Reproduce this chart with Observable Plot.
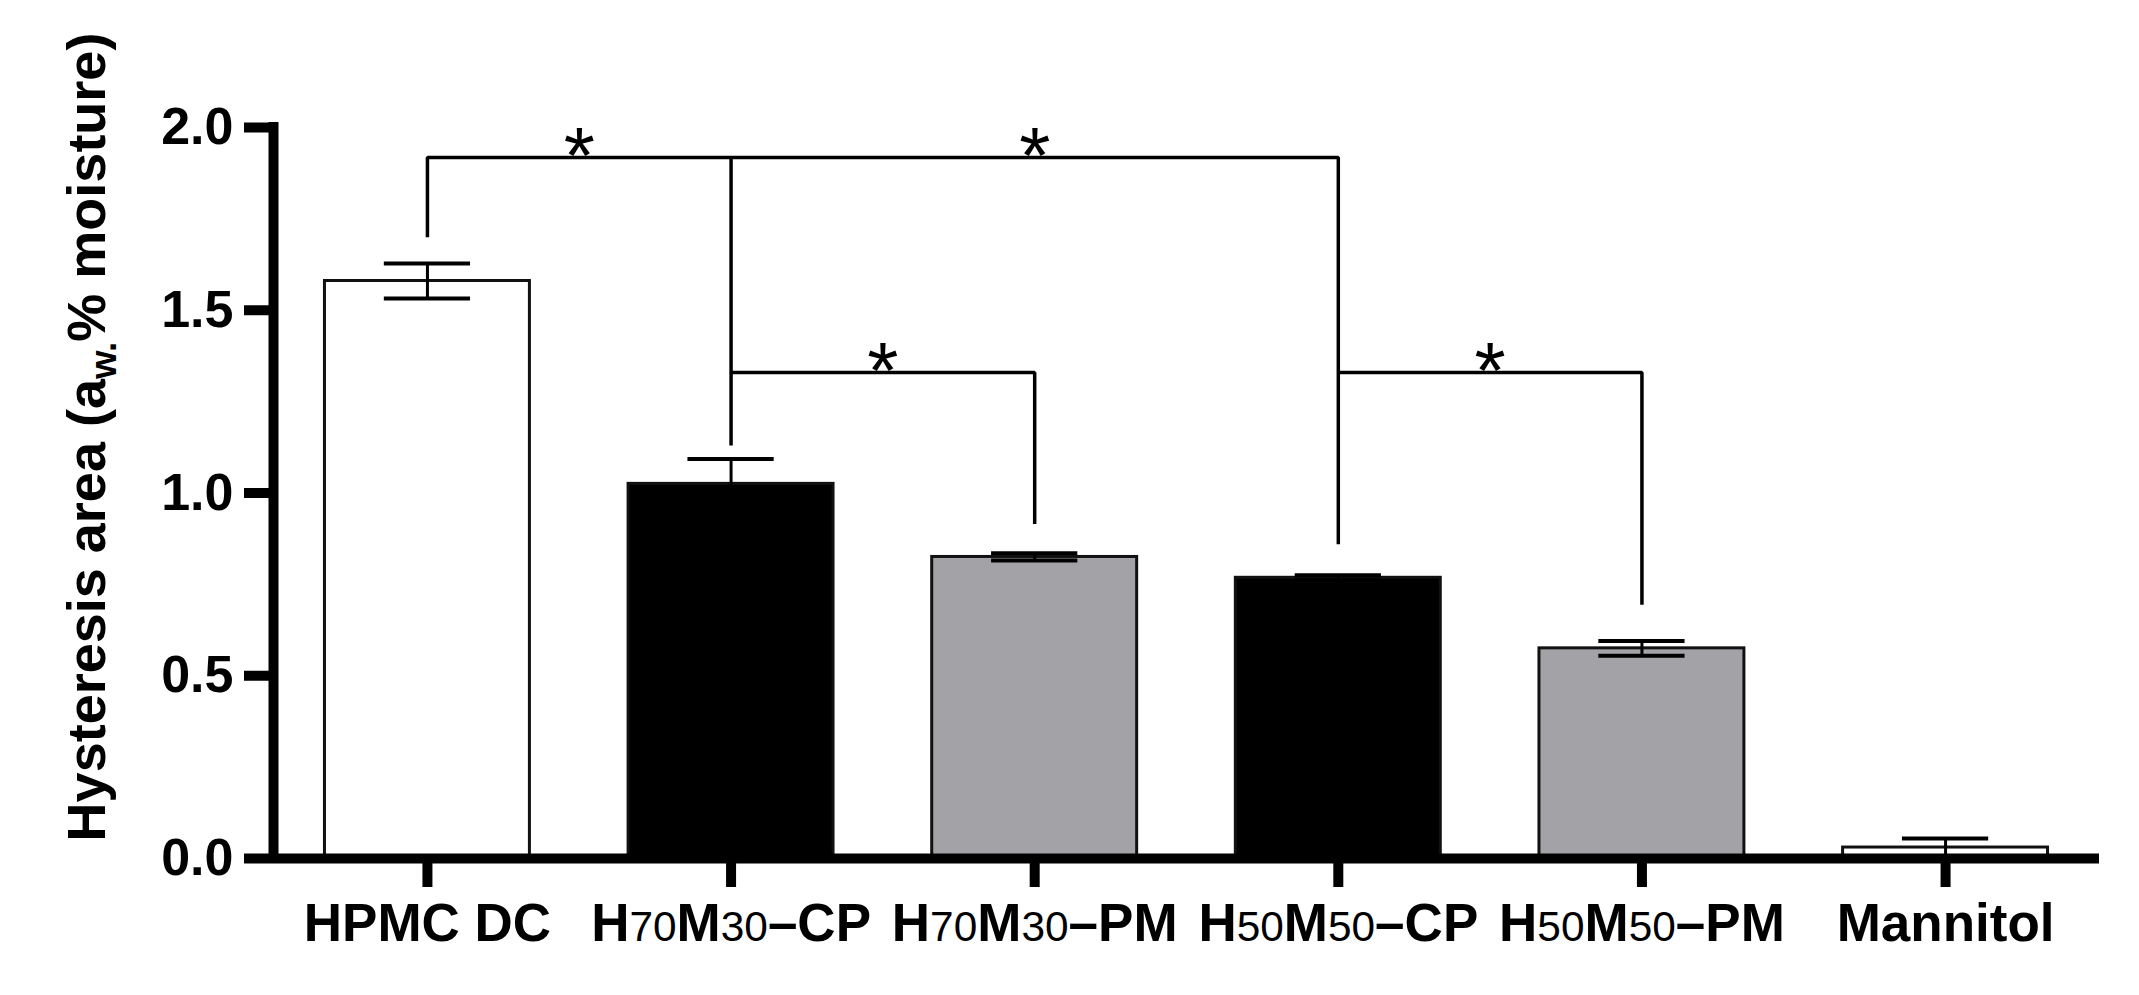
<!DOCTYPE html>
<html>
<head>
<meta charset="utf-8">
<script src="https://cdn.jsdelivr.net/npm/d3@7"></script>
<script src="https://cdn.jsdelivr.net/npm/@observablehq/plot@0.6"></script>
<style>
  body { margin: 0; background: #fff; }
  svg { display: block; }
</style>
</head>
<body>
<div id="chart"></div>
<script>
// ---- data ----
const categories = ["HPMC DC", "H70M30–CP", "H70M30–PM", "H50M50–CP", "H50M50–PM", "Mannitol"];
const means = [1.58, 1.025, 0.825, 0.768, 0.575, 0.03];
const sems = [0.048, 0.068, 0.01, 0.007, 0.02, 0.025];
const preparation = ["none", "CP", "PM", "CP", "PM", "none"];
const yTicks = [0, 0.5, 1.0, 1.5, 2.0];
const yLabelMain = "Hysteresis area (a";
const yLabelSub = "w.";
const yLabelRest = "% moisture)";

// significance brackets: polylines of [category, value]
const bracketPaths = [
  [["HPMC DC", 1.70], ["HPMC DC", 1.918], ["H50M50–CP", 1.918], ["H50M50–CP", 0.86]],
  [["H70M30–CP", 1.13], ["H70M30–CP", 1.918]],
  [["H70M30–CP", 1.33], ["H70M30–PM", 1.33], ["H70M30–PM", 0.915]],
  [["H50M50–CP", 1.33], ["H50M50–PM", 1.33], ["H50M50–PM", 0.694]]
];
// stars: placed midway between two categories at a level
const stars = [
  ["HPMC DC", "H70M30–CP", 1.918],
  ["H70M30–CP", "H50M50–CP", 1.918],
  ["H70M30–CP", "H70M30–PM", 1.33],
  ["H50M50–CP", "H50M50–PM", 1.33]
];

// ---- derived tables ----
const idx = c => categories.indexOf(c);
const rows = categories.map((c, i) => ({i, cat: c, mean: means[i], sem: sems[i], kind: preparation[i]}));
const caps = rows.flatMap(d => [{i: d.i, v: d.mean - d.sem}, {i: d.i, v: d.mean + d.sem}]);
const bracketPts = bracketPaths.flatMap((p, k) => p.map(([c, v]) => ({k, x: idx(c), v})));
const starPts = stars.map(([a, b, v]) => ({x: (idx(a) + idx(b)) / 2, v}));

const n = categories.length;
const xPad = 0.507;      // outer padding in category units
const halfBar = 0.3375;  // half bar width in category units
const halfCap = 0.142;   // half error-cap width

const FONT = "'Liberation Sans', Arial, Helvetica, sans-serif";

const chart = Plot.plot({
  width: 2139,
  height: 995,
  marginTop: 127,
  marginBottom: 137,
  marginLeft: 273,
  marginRight: 40,
  style: {fontFamily: FONT, background: "white", color: "black"},
  x: {type: "linear", domain: [-xPad, n - 1 + xPad]},
  y: {domain: [0, 2]},
  color: {domain: ["none", "CP", "PM"], range: ["white", "black", "#a3a2a6"]},
  marks: [
    Plot.rectY(rows, {x1: d => d.i - halfBar, x2: d => d.i + halfBar, y: "mean", fill: "kind", stroke: "#111", strokeWidth: 3}),
    Plot.ruleX(rows, {x: "i", y1: d => d.mean - d.sem, y2: d => d.mean + d.sem, stroke: "black", strokeWidth: 3}),
    Plot.ruleY(caps, {x1: d => d.i - halfCap, x2: d => d.i + halfCap, y: "v", stroke: "black", strokeWidth: 4}),
    Plot.line(bracketPts, {x: "x", y: "v", z: "k", stroke: "black", strokeWidth: 3.5, strokeLinejoin: "miter", strokeLinecap: "butt", curve: "linear"}),
    Plot.text(starPts, {x: "x", y: "v", text: () => "*", fontSize: 80, fontFamily: FONT, fontWeight: "normal", lineAnchor: "middle", fill: "black"}),
    Plot.ruleY([0], {stroke: "black", strokeWidth: 10}),
    Plot.ruleX([-xPad], {y1: 0, y2: 2, stroke: "black", strokeWidth: 10, strokeLinecap: "square"}),
    Plot.axisY({ticks: yTicks, tickFormat: d3.format(".1f"), tickSize: 29, tickPadding: 11, strokeWidth: 10, fontSize: 52, fontWeight: "bold", label: null}),
    Plot.axisX({ticks: d3.range(n), tickFormat: i => categories[i], tickSize: 29, tickPadding: 16, strokeWidth: 10, fontSize: 53, fontWeight: "bold", label: null})
  ]
});

const svg = d3.select(chart);
// digits in category labels: regular weight, slightly smaller
svg.selectAll('g[aria-label="x-axis tick label"] text').each(function() {
  const t = this.textContent;
  const sel = d3.select(this);
  sel.text(null);
  t.split(/(\d+)/).filter(s => s.length).forEach(part => {
    const ts = sel.append("tspan").text(part);
    if (/^\d+$/.test(part)) ts.attr("font-weight", "normal").attr("font-size", "0.8em");
  });
});
svg.selectAll('g[aria-label="y-axis tick label"] text').attr("font-weight", "bold");

// y-axis title with subscript
const lab = svg.append("text")
  .attr("transform", "translate(105,437) rotate(-90)")
  .attr("text-anchor", "middle")
  .attr("font-family", FONT)
  .attr("font-weight", "bold")
  .attr("font-size", 54)
  .attr("fill", "black");
lab.append("tspan").text(yLabelMain);
lab.append("tspan").text(yLabelSub).attr("font-size", "0.68em").attr("dy", "0.3em");
lab.append("tspan").text(yLabelRest).attr("dy", "-0.2em");

document.getElementById("chart").appendChild(chart);
</script>
</body>
</html>
